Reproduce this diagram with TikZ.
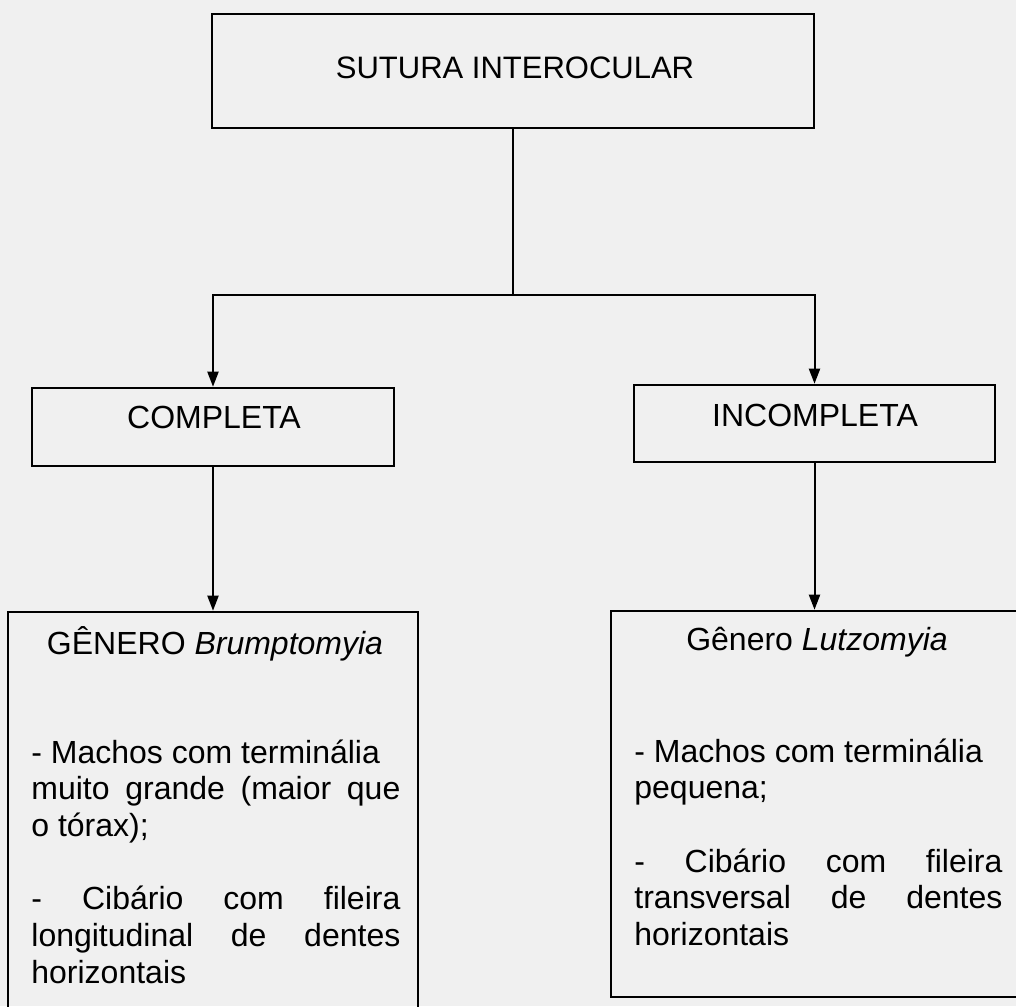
\documentclass[tikz,border=0pt]{standalone}
\usepackage{fontspec}
\setmainfont{Liberation Sans}
\usetikzlibrary{arrows.meta}
\begin{document}
\begin{tikzpicture}[x=0.5pt,y=-0.5pt,
  box/.style={draw, line width=1.3pt, inner sep=0pt, rectangle},
  link/.style={line width=1pt},
  arr/.style={line width=1pt, -{Triangle[length=7.5pt,width=5.5pt]}},
  lbl/.style={inner sep=0pt, anchor=base, font=\fontsize{16}{18.35}\selectfont},
  body/.style={inner sep=0pt, anchor=base west, font=\fontsize{16}{18.35}\selectfont}]
\fill[black!6] (0,0) rectangle (1016,1006);
\useasboundingbox (0,0) rectangle (1016,1006);
\clip (0,0) rectangle (1016,1006);

% boxes
\node[box, minimum width=301pt, minimum height=57pt] (top) at (513,71) {};
\node[box, minimum width=181pt, minimum height=39pt] (comp) at (213,427) {};
\node[box, minimum width=180.5pt, minimum height=38.5pt] (incomp) at (814.5,423.5) {};
\node[box, minimum width=205pt, minimum height=214pt] (genL) at (213,826) {};
\node[box, minimum width=209.5pt, minimum height=193pt] (genR) at (820.5,804) {};

% labels
\node[lbl, font=\fontsize{15.5}{18}\selectfont] (topT) at (515,79) {SUTURA INTEROCULAR};
\node[lbl] (compT) at (214,428) {COMPLETA};
\node[lbl] (incompT) at (815,426) {INCOMPLETA};
\node[lbl] (genLT) at (215,654) {GÊNERO \textit{Brumptomyia}};
\node[lbl] (genRT) at (817,650) {Gênero \textit{Lutzomyia}};

\node[body] (bodyL) at (31,763) {\parbox[t]{184.5pt}{%
- Machos com terminália\\
\makebox[\linewidth][s]{muito grande (maior que}\\
o tórax);\\[18.35pt]
\makebox[\linewidth][s]{- Cibário com fileira}\\
\makebox[\linewidth][s]{longitudinal de dentes}\\
horizontais}};

\node[body] (bodyR) at (634,762) {\parbox[t]{184pt}{%
- Machos com terminália\\
pequena;\\[18.35pt]
\makebox[\linewidth][s]{- Cibário com fileira}\\
\makebox[\linewidth][s]{transversal de dentes}\\
horizontais}};

% connectors
\coordinate (j) at (513,295);
\draw[link] (top.south) -- (j);
\draw[arr] (j) -| (comp.north);
\draw[arr] (j) -| (incomp.north);
\draw[arr] (comp.south) -- (comp.south |- genL.north);
\draw[arr] (incomp.south) -- (incomp.south |- genR.north);
\end{tikzpicture}
\end{document}
